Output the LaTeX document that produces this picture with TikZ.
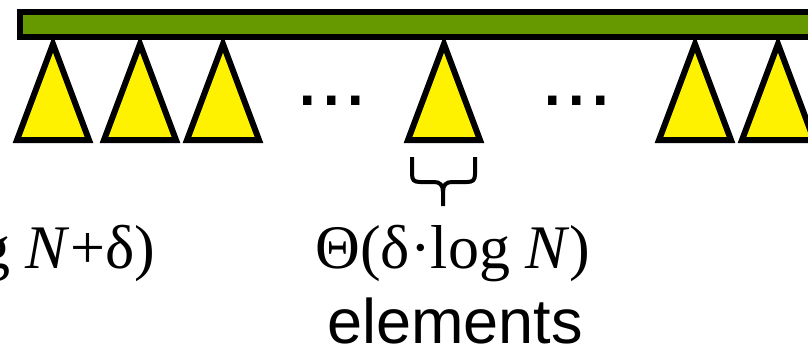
\documentclass[tikz,border=0pt]{standalone}
\usepackage{fontspec}
\setmainfont{Liberation Serif}
\newfontfamily\arialfont{Liberation Sans}
\definecolor{bargreen}{RGB}{102,153,0}
\begin{document}
\begin{tikzpicture}[x=1pt,y=-1pt,
  tri/.style={draw=black,fill=yellow,line width=6pt,line join=miter},
  bar/.style={draw=black,fill=bargreen,line width=6pt},
  lbl/.style={inner sep=0pt,outer sep=0pt},
  serifbig/.style={font=\fontsize{62}{66}\selectfont},
  sansbig/.style={font=\arialfont\fontsize{63}{68}\selectfont},
  dotstyle/.style={font=\arialfont\fontsize{88}{90}\selectfont},
  bracestyle/.style={line width=4pt,line cap=butt}]
\useasboundingbox (0,0) rectangle (808,348);
\clip (0,0) rectangle (808,348);
% triangles (drawn first so the bar covers the apices)
\foreach \c in {53,140,223,444,695,778}
  \draw[tri] (\c,44) -- (\c-36,140) -- (\c+36,140) -- cycle;
% bar
\draw[bar] (20,12) rectangle (830,37);
% dots
\node[lbl,anchor=base west,dotstyle] (dotsL) at (295,105) {...};
\node[lbl,anchor=base west,dotstyle] (dotsR) at (540,105) {...};
% brace
\draw[bracestyle] (412,157) -- (412,174) .. controls (412,180) and (414,182) .. (420,182) -- (434,182) .. controls (440,182) and (443,185) .. (443,192) -- (443,206);
\draw[bracestyle] (475,157) -- (475,174) .. controls (475,180) and (473,182) .. (467,182) -- (452,182) .. controls (446,182) and (443,185) .. (443,192);
% labels
\node[lbl,anchor=base east,serifbig] (leftlbl) at (155,268) {g \textit{N}+δ)};
\node[lbl,anchor=base,serifbig] (theta) at (453,268) {Θ(δ·log \textit{N})};
\node[lbl,anchor=base,sansbig] (elem) at (455,343) {elements};
\end{tikzpicture}
\end{document}
